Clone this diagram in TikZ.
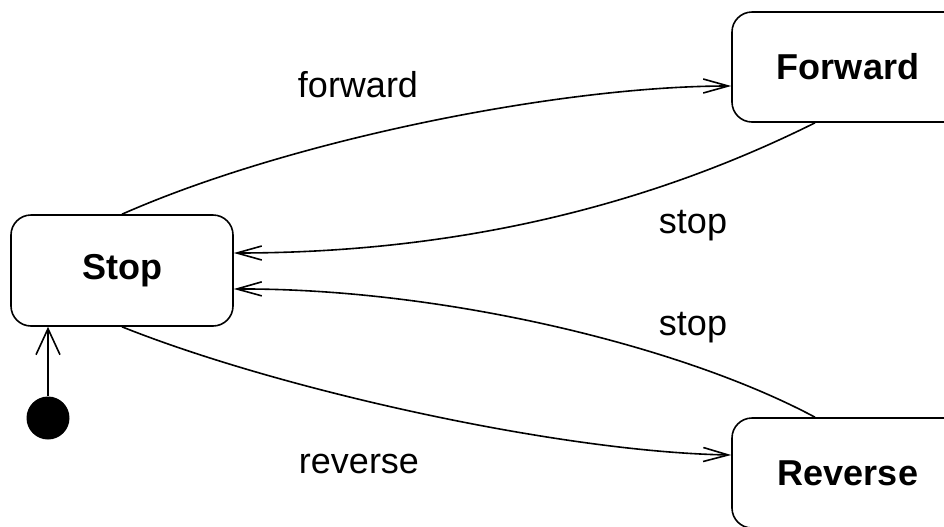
\documentclass[tikz,border=0pt]{standalone}
\usepackage{fontspec}
\setmainfont{Liberation Sans}
\usetikzlibrary{arrows.meta}

\begin{document}
\begin{tikzpicture}[x=0.5pt,y=0.5pt,yscale=-1,xscale=1,
  state/.style={draw, rounded corners=10pt, line width=0.8pt, minimum width=116pt, minimum height=55pt, inner sep=0pt, font=\fontsize{18pt}{20pt}\selectfont\bfseries},
  trans/.style={line width=0.8pt, -{Straight Barb[length=12.5pt,width=7pt,line width=0.8pt]}},
  evt/.style={inner sep=0pt, anchor=base, font=\fontsize{18pt}{20pt}\selectfont}]
\useasboundingbox (0,0) rectangle (944,526);

%States
\node (stop) [state, minimum width=111pt, minimum height=55.5pt] at (122,270.5) {Stop};
\node (fwd) [state] at (848,67) {Forward};
\node (rev) [state] at (848,473) {Reverse};
%Initial state
\node (init) [circle, fill, inner sep=0pt, minimum size=21.5pt] at (48,418) {};

%Transitions
\draw [trans, -{Straight Barb[length=13pt,width=12pt,line width=0.8pt]}] (init.north) -- (init.north |- stop.south);
\draw [trans] (stop.north) .. controls (290,140) and (560,86) .. ([yshift=9.5pt]fwd.west);
\draw [trans] ([xshift=-16.5pt]fwd.south) .. controls (660,200) and (470,253) .. ([yshift=-8.75pt]stop.east);
\draw [trans] ([xshift=-16.5pt]rev.north) .. controls (680,345) and (440,288) .. ([yshift=9.25pt]stop.east);
\draw [trans] (stop.south) .. controls (280,390) and (560,452) .. ([yshift=-9pt]rev.west);

% Text Node
\node (lblfwd) [evt] at (358,97) {forward};
% Text Node
\node (lblstopf) [evt] at (693,233) {stop};
% Text Node
\node (lblstopr) [evt] at (693,335) {stop};
% Text Node
\node (lblrev) [evt] at (359,473) {reverse};

\end{tikzpicture}
\end{document}
